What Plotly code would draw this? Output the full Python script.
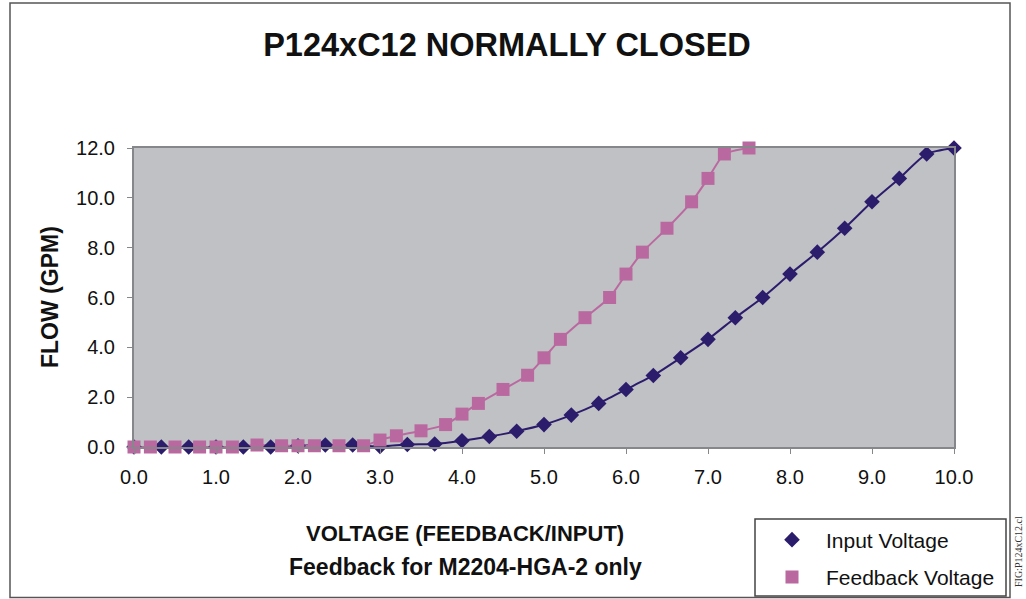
import plotly.graph_objects as go

# ---- data ----
input_voltage = [0.0, 0.333, 0.667, 1.0, 1.333, 1.667, 2.0, 2.333, 2.667, 3.0,
                 3.333, 3.667, 4.0, 4.333, 4.667, 5.0, 5.333, 5.667, 6.0, 6.333,
                 6.667, 7.0, 7.333, 7.667, 8.0, 8.333, 8.667, 9.0, 9.333, 9.667, 10.0]
input_flow = [0.0, 0.0, 0.0, 0.0, 0.0, 0.0, 0.05, 0.08, 0.08, 0.02,
              0.1, 0.12, 0.25, 0.42, 0.63, 0.9, 1.28, 1.75, 2.31, 2.87,
              3.58, 4.32, 5.19, 6.0, 6.94, 7.82, 8.78, 9.84, 10.78, 11.76, 12.0]

feedback_voltage = [0.0, 0.2, 0.5, 0.8, 1.0, 1.2, 1.5, 1.8, 2.0, 2.2,
                    2.5, 2.8, 3.0, 3.2, 3.5, 3.8, 4.0, 4.2, 4.5, 4.8,
                    5.0, 5.2, 5.5, 5.8, 6.0, 6.2, 6.5, 6.8, 7.0, 7.2, 7.5]
feedback_flow = [0.0, 0.0, 0.0, 0.0, 0.0, 0.0, 0.08, 0.05, 0.05, 0.05,
                 0.05, 0.05, 0.28, 0.45, 0.65, 0.9, 1.32, 1.75, 2.31, 2.88,
                 3.58, 4.32, 5.19, 6.0, 6.94, 7.82, 8.78, 9.84, 10.78, 11.76, 12.0]

x_ticks = [0, 1, 2, 3, 4, 5, 6, 7, 8, 9, 10]
y_ticks = [0, 2, 4, 6, 8, 10, 12]

title_text = "P124xC12 NORMALLY CLOSED"
y_title = "FLOW (GPM)"
x_title_1 = "VOLTAGE (FEEDBACK/INPUT)"
x_title_2 = "Feedback for M2204-HGA-2 only"
fig_label = "FIG:P124xC12.cl"

# ---- layout geometry (pixels) ----
W, H = 1026, 599
PL, PR, PT, PB = 134, 954, 148, 447


def px(x):
    return (x - PL) / (PR - PL)


def py(y):
    return (PB - y) / (PB - PT)


FONT = "Liberation Sans, Arial, sans-serif"
NAVY = "#2C1C6C"
PINK = "#BA69A0"
AXIS = "#85878B"
TXT = "#111111"

fig = go.Figure()
# smoothed connecting lines
fig.add_trace(go.Scatter(
    x=input_voltage, y=input_flow, mode="lines", showlegend=False, hoverinfo="skip",
    line=dict(color=NAVY, width=2, shape="spline", smoothing=0.6), cliponaxis=False,
))
fig.add_trace(go.Scatter(
    x=feedback_voltage, y=feedback_flow, mode="lines", showlegend=False, hoverinfo="skip",
    line=dict(color=PINK, width=2, shape="spline", smoothing=0.6), cliponaxis=False,
))
# markers (also the legend entries)
fig.add_trace(go.Scatter(
    x=input_voltage, y=input_flow, name="Input Voltage", mode="markers",
    marker=dict(symbol="diamond", size=12, color=NAVY),
    legendgroup="a", cliponaxis=False,
))
fig.add_trace(go.Scatter(
    x=feedback_voltage, y=feedback_flow, name="Feedback Voltage", mode="markers",
    marker=dict(symbol="square", size=13, color=PINK),
    legendgroup="b", cliponaxis=False,
))

shapes = [
    # outer chart frame
    dict(type="rect", xref="paper", yref="paper",
         x0=px(10), x1=px(1010), y0=py(597.5), y1=py(3),
         line=dict(color="#555555", width=1.5), fillcolor="rgba(0,0,0,0)", layer="below"),
    # legend box
    dict(type="rect", xref="paper", yref="paper",
         x0=px(755), x1=px(1006), y0=py(596), y1=py(519),
         line=dict(color="#444444", width=1.5), fillcolor="white", layer="below"),
]

annotations = [
    dict(text="<b>" + y_title + "</b>", xref="paper", yref="paper", x=px(50), y=py(297),
         showarrow=False, textangle=-90, font=dict(family=FONT, size=23, color=TXT),
         xanchor="center", yanchor="middle"),
    dict(text="<b>" + x_title_1 + "</b>", xref="paper", yref="paper", x=px(465), y=py(533),
         showarrow=False, font=dict(family=FONT, size=22, color=TXT),
         xanchor="center", yanchor="middle"),
    dict(text="<b>" + x_title_2 + "</b>", xref="paper", yref="paper", x=px(465), y=py(567),
         showarrow=False, font=dict(family=FONT, size=23, color=TXT),
         xanchor="center", yanchor="middle"),
    dict(text=fig_label, xref="paper", yref="paper", x=px(1018), y=py(552),
         showarrow=False, textangle=-90, font=dict(family="Liberation Serif, serif", size=10, color="#333333"),
         xanchor="center", yanchor="middle"),
]

fig.update_layout(
    width=W, height=H, autosize=False,
    margin=dict(l=PL, r=W - PR, t=PT, b=H - PB, pad=0, autoexpand=False),
    paper_bgcolor="white", plot_bgcolor="#C0C1C5",
    title=dict(text="<b>" + title_text + "</b>", x=507 / W, xanchor="center",
               y=1 - 45 / H, yanchor="middle", yref="container", xref="container",
               font=dict(family=FONT, size=32.5, color=TXT)),
    font=dict(family=FONT, size=20, color=TXT),
    xaxis=dict(range=[0, 10], tickvals=x_ticks, tickformat=".1f", showgrid=False,
               zeroline=False, showline=True, linecolor=AXIS, linewidth=2, mirror=True,
               ticks="outside", ticklen=5, tickcolor=AXIS, ticklabelstandoff=6,
               tickfont=dict(family=FONT, size=20, color=TXT)),
    yaxis=dict(range=[0, 12], tickvals=y_ticks, tickformat=".1f", showgrid=False,
               zeroline=False, showline=True, linecolor=AXIS, linewidth=2, mirror=True,
               ticks="outside", ticklen=5, tickcolor=AXIS, ticklabelstandoff=8,
               tickfont=dict(family=FONT, size=20, color=TXT)),
    showlegend=True,
    legend=dict(x=px(755), y=py(519.5), xanchor="left", yanchor="top",
                bgcolor="rgba(0,0,0,0)", borderwidth=0,
                font=dict(family=FONT, size=21, color=TXT),
                itemwidth=58, indentation=3, tracegroupgap=7, traceorder="grouped",
                itemclick=False, itemdoubleclick=False),
    shapes=shapes,
    annotations=annotations,
)

fig.write_html("out.html", config={"displayModeBar": False},
               post_script="document.body.style.margin='0';")
